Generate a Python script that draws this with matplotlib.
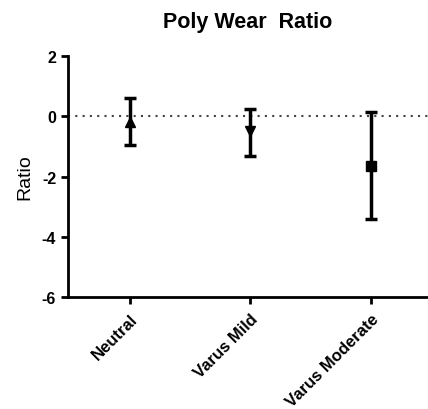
import matplotlib.pyplot as plt

plt.rcParams['font.family'] = ['Liberation Sans', 'DejaVu Sans']
plt.rcParams['font.weight'] = 'bold'
plt.rcParams['axes.unicode_minus'] = False

groups = ['Neutral', 'Varus Mild', 'Varus Moderate']
means = [-0.2, -0.5, -1.65]
upper = [0.6, 0.23, 0.13]
lower = [-0.95, -1.33, -3.42]
markers = ['^', 'v', 's']

fig = plt.figure(figsize=(4.28, 4.10), dpi=100, facecolor='white')
ax = fig.add_axes([0.159, 0.273, 0.841, 0.588])

ax.axhline(0, color='#444444', linestyle=(0, (1, 2.5)), linewidth=1.5, zorder=1)
for i in range(len(groups)):
	ax.errorbar(i, means[i], yerr=[[means[i] - lower[i]], [upper[i] - means[i]]],
		fmt=markers[i], color='black', markersize=7, elinewidth=2.5,
		capsize=4, capthick=2.5, zorder=3)

ax.set_xlim(-0.51, 2.47)
ax.set_ylim(-6, 2)
ax.set_yticks([2, 0, -2, -4, -6])
ax.set_xticks(range(len(groups)))
ax.set_xticklabels(groups, rotation=45, ha='right', rotation_mode='anchor', fontsize=12)
ax.tick_params(axis='y', labelsize=11.5, width=2, length=5)
ax.tick_params(axis='x', width=2, length=5, pad=5)
for s in ['top', 'right']:
	ax.spines[s].set_visible(False)
for s in ['left', 'bottom']:
	ax.spines[s].set_linewidth(2)
ax.set_ylabel('Ratio', fontsize=14, fontweight='normal', labelpad=6)
ax.set_title('Poly Wear  Ratio', fontsize=15.5, fontweight='bold', pad=21)

fig.savefig('out.png', dpi=100)
